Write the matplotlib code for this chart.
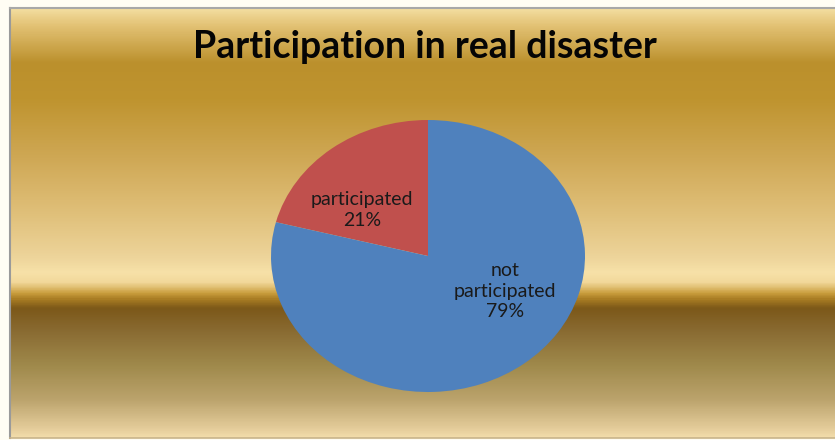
import numpy as np
import matplotlib
matplotlib.use("Agg")
import matplotlib.pyplot as plt
from matplotlib.colors import LinearSegmentedColormap

# data
labels = ["participated", "not participated"]
values = [21, 79]
colors = ["#c0504d", "#4f81bd"]
title = "Participation in real disaster"

W, H = 835, 440
fig = plt.figure(figsize=(W / 100, H / 100), dpi=100)
fig.patch.set_facecolor("#fffdf4")

# gold background of the chart area (frame from y=8 to 438, x=10 to right edge)
x0, y0, y1 = 10, 8, 438
bg = fig.add_axes([x0 / W, 1 - y1 / H, 1 - x0 / W, (y1 - y0) / H])
stops = [
    (0.000, "#f4dfa2"),
    (0.040, "#e3c275"),
    (0.128, "#bb902c"),
    (0.214, "#bf942f"),
    (0.350, "#cfa855"),
    (0.480, "#e0c07a"),
    (0.580, "#edd49a"),
    (0.616, "#f7e1a8"),
    (0.640, "#f2d89a"),
    (0.665, "#c99d3c"),
    (0.680, "#a57a22"),
    (0.700, "#7c5819"),
    (0.756, "#8a6c33"),
    (0.835, "#a08a4c"),
    (0.912, "#bba36c"),
    (0.980, "#e4cc9a"),
    (1.000, "#f2dcaa"),
]
cmap = LinearSegmentedColormap.from_list("gold", stops)
grad = np.linspace(0, 1, 800).reshape(-1, 1)
bg.imshow(grad, cmap=cmap, aspect="auto", extent=[0, 1, 1, 0])
bg.set_xlim(0, 1)
bg.set_ylim(1, 0)
bg.set_xticks([])
bg.set_yticks([])
bg.spines["right"].set_visible(False)
bg.spines["left"].set_color("#9a9a9a")
bg.spines["left"].set_linewidth(1.5)
bg.spines["top"].set_color("#a8a8a8")
bg.spines["top"].set_linewidth(1.5)
bg.spines["bottom"].set_color("#c8b48a")
bg.spines["bottom"].set_linewidth(1.2)

fig.text(425 / W, 1 - 47 / H, title, ha="center", va="center",
         fontsize=27, fontweight="bold", family="Lato", color="#050505")

# pie, stretched into an ellipse like the reference
cx, cy, rx, ry = 428, 256, 157, 136
ax = fig.add_axes([(cx - rx) / W, 1 - (cy + ry) / H, 2 * rx / W, 2 * ry / H])
ax.pie(values, colors=colors, startangle=90, counterclock=True,
       wedgeprops=dict(linewidth=0))
ax.set_aspect("auto")
ax.set_xlim(-1, 1)
ax.set_ylim(-1, 1)
ax.axis("off")

label_pos = [(-0.42, 0.34), (0.49, -0.26)]
texts = ["participated\n21%", "not\nparticipated\n79%"]
for (px, py), t in zip(label_pos, texts):
    ax.text(px, py, t, ha="center", va="center", fontsize=14,
            family="Lato", color="#1a1a1a", linespacing=1.25)

fig.savefig("out.png", dpi=100, facecolor=fig.get_facecolor())
